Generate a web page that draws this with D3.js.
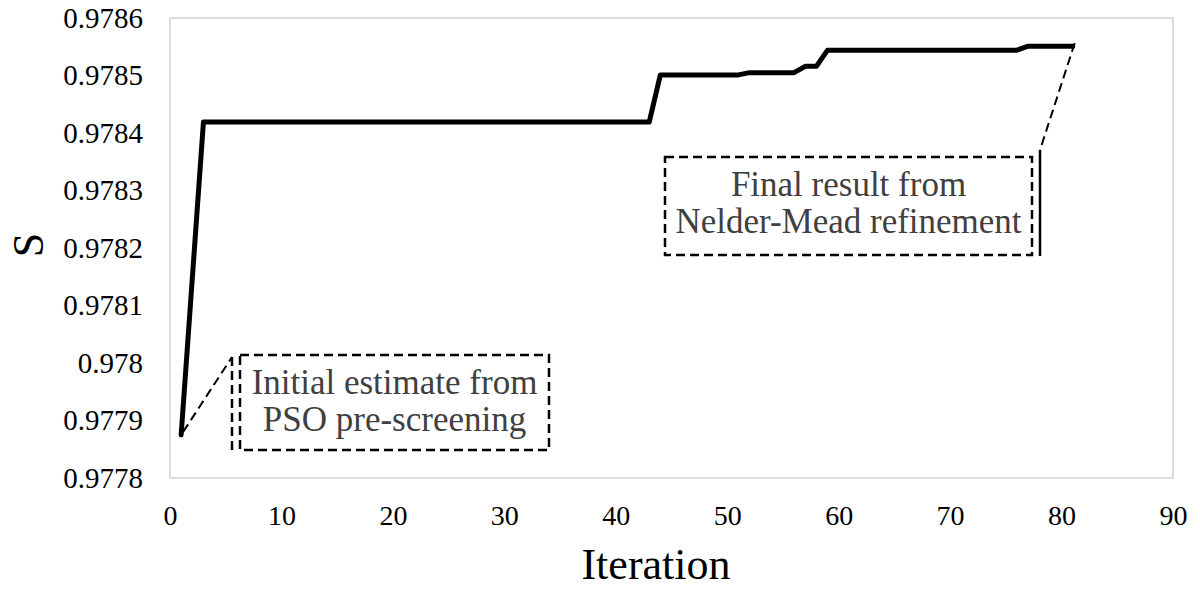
<!DOCTYPE html>
<html>
<head>
<meta charset="utf-8">
<script src="https://cdn.jsdelivr.net/npm/d3@7"></script>
<style>
  body { margin: 0; background: #fff; }
</style>
</head>
<body>
<svg id="chart" width="1200" height="589"></svg>
<script>
// vertices of the convergence curve (iteration, S)
var iterations = [1, 3, 43, 44, 51, 52, 56, 57, 58, 59, 76, 77, 81];
var sValues = [0.977875, 0.978419, 0.978419, 0.978501, 0.978501, 0.978505, 0.978505,
               0.978516, 0.978516, 0.978544, 0.978544, 0.978551, 0.978551];
var xTicks = [0, 10, 20, 30, 40, 50, 60, 70, 80, 90];
var yTicks = [0.9778, 0.9779, 0.978, 0.9781, 0.9782, 0.9783, 0.9784, 0.9785, 0.9786];
var noteLines1 = ['Initial estimate from', 'PSO pre-screening'];
var noteLines2 = ['Final result from', 'Nelder-Mead refinement'];

var FONT = 'Liberation Serif';
var svg = d3.select('#chart');
var margin = {left: 170, right: 27, top: 18, bottom: 111};
var W = 1200, H = 589;

var x = d3.scaleLinear().domain([0, 90]).range([margin.left, W - margin.right]);
var y = d3.scaleLinear().domain([0.9778, 0.9786]).range([H - margin.bottom, margin.top]);

// plot frame
svg.append('rect')
  .attr('x', x(0)).attr('y', y(0.9786))
  .attr('width', x(90) - x(0)).attr('height', y(0.9778) - y(0.9786))
  .attr('fill', 'none').attr('stroke', '#d0d0d0').attr('stroke-width', 1.5);

// axes (labels only)
var xAxis = svg.append('g')
  .attr('transform', 'translate(0,' + y(0.9778) + ')')
  .call(d3.axisBottom(x).tickValues(xTicks).tickSize(0).tickPadding(27));
xAxis.attr('font-family', FONT).attr('font-size', 28);
xAxis.select('.domain').remove();
xAxis.selectAll('.tick text')
  .attr('fill', '#000')
  .attr('font-family', FONT)
  .style('font-family', FONT);

var yAxis = svg.append('g')
  .attr('transform', 'translate(' + (x(0) - 27) + ',0)')
  .call(d3.axisLeft(y).tickValues(yTicks).tickSize(0).tickPadding(0)
    .tickFormat(function(d){ return String(+d.toFixed(4)); }));
yAxis.attr('font-family', FONT).attr('font-size', 29);
yAxis.select('.domain').remove();
yAxis.selectAll('.tick text')
  .attr('fill', '#000')
  .attr('font-family', FONT)
  .style('font-family', FONT);

// axis titles
svg.append('text')
  .attr('x', 656).attr('y', 579)
  .attr('text-anchor', 'middle').attr('font-size', 44)
  .style('font-family', FONT).text('Iteration');
svg.append('text')
  .attr('transform', 'translate(43,' + (y(0.9782) - 3) + ') rotate(-90)')
  .attr('text-anchor', 'middle').attr('font-size', 44)
  .style('font-family', FONT).text('S');

// curve
var pts = iterations.map(function(it, i){ return [it, sValues[i]]; });
svg.append('path')
  .datum(pts)
  .attr('fill', 'none').attr('stroke', '#000').attr('stroke-width', 5)
  .attr('stroke-linejoin', 'round').attr('stroke-linecap', 'round')
  .attr('d', d3.line().x(function(d){ return x(d[0]); }).y(function(d){ return y(d[1]); }));

// callout helper
function callout(box, bar, anchor, lines, barDashed) {
  var g = svg.append('g');
  g.append('rect')
    .attr('x', box[0]).attr('y', box[1]).attr('width', box[2]).attr('height', box[3])
    .attr('fill', 'none').attr('stroke', '#000').attr('stroke-width', 2.5)
    .attr('stroke-dasharray', '9,5');
  g.append('line')
    .attr('x1', bar[0]).attr('y1', bar[1]).attr('x2', bar[0]).attr('y2', bar[2])
    .attr('stroke', '#000').attr('stroke-width', 2.5)
    .attr('stroke-dasharray', barDashed ? '9,5' : null);
  g.append('line')
    .attr('x1', x(anchor[0]) + 2).attr('y1', y(anchor[1]) - 3).attr('x2', bar[0]).attr('y2', bar[1])
    .attr('stroke', '#000').attr('stroke-width', 2).attr('stroke-dasharray', '9,5');
  g.selectAll('text.note').data(lines).enter().append('text')
    .attr('class', 'note')
    .attr('x', box[0] + box[2] / 2)
    .attr('y', function(d, i){ return box[1] + 39 + i * 37; })
    .attr('text-anchor', 'middle').attr('font-size', 35).attr('fill', '#404040')
    .style('font-family', FONT)
    .text(function(d){ return d; });
}

callout([240, 355, 309, 95], [232, 357, 450], [iterations[0], sValues[0]], noteLines1, true);
callout([665, 157, 367, 98], [1040, 150, 256], [iterations[iterations.length - 1], sValues[sValues.length - 1]], noteLines2, false);
</script>
</body>
</html>
